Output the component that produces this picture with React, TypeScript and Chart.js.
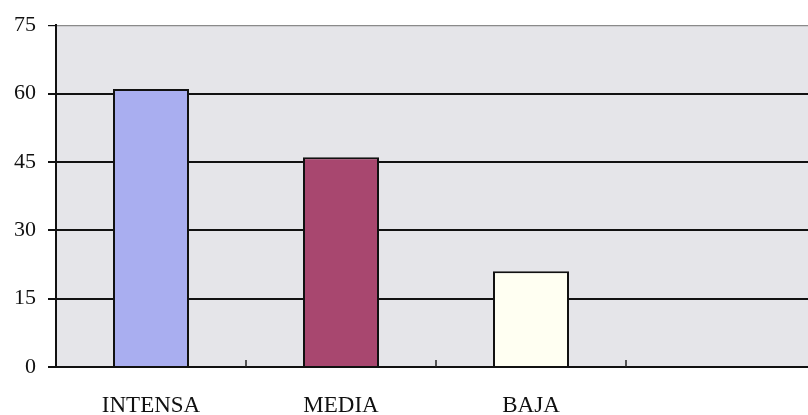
import React, { useEffect, useRef } from "react";
import { Chart, registerables } from "chart.js";

Chart.register(...registerables);

const categories = ["INTENSA", "MEDIA", "BAJA", ""];
const values = [61, 46, 21, null];
const barColors = ["#a9aef0", "#a8476f", "#fffff2", "#ffffff"];
const yTicks = [0, 15, 30, 45, 60, 75];

const plotBg = {
  id: "plotBg",
  beforeDraw(chart: any) {
    const { ctx, chartArea } = chart;
    ctx.save();
    ctx.fillStyle = "#e5e5e9";
    ctx.fillRect(chartArea.left, chartArea.top, chartArea.right - chartArea.left, chartArea.bottom - chartArea.top);
    ctx.restore();
  },
};

const innerTicks = {
  id: "innerTicks",
  afterDraw(chart: any) {
    const { ctx, chartArea } = chart;
    const x = chart.scales.x;
    ctx.save();
    ctx.strokeStyle = "#222";
    ctx.lineWidth = 1.5;
    for (let i = 1; i < categories.length; i++) {
      const px = (x.getPixelForValue(i - 1) + x.getPixelForValue(i)) / 2;
      ctx.beginPath();
      ctx.moveTo(px, chartArea.bottom);
      ctx.lineTo(px, chartArea.bottom - 7);
      ctx.stroke();
    }
    ctx.restore();
  },
};

export default function App() {
  const ref = useRef<HTMLCanvasElement>(null);
  useEffect(() => {
    if (!ref.current) return;
    const chart = new Chart(ref.current, {
      type: "bar",
      data: {
        labels: categories,
        datasets: [
          {
            data: values as any,
            backgroundColor: barColors,
            borderColor: "#111",
            borderWidth: 2,
            barPercentage: 0.8,
            categoryPercentage: 0.5,
          },
        ],
      },
      options: {
        animation: false,
        responsive: false,
        maintainAspectRatio: false,
        layout: { padding: { left: 0, right: 14, top: 25, bottom: 0 } },
        plugins: { legend: { display: false }, tooltip: { enabled: false } },
        scales: {
          x: {
            offset: true,
            afterFit(scale: any) {
              scale.height = 48;
            },
            grid: { display: false, drawTicks: false },
            border: { display: true, color: "#111", width: 2 },
            ticks: {
              color: "#111",
              padding: 25,
              maxRotation: 0,
              font: { family: "Liberation Serif", size: 23 },
            },
          },
          y: {
            min: 0,
            max: 75,
            afterFit(scale: any) {
              scale.width = 56;
            },
            afterBuildTicks(scale: any) {
              scale.ticks = yTicks.map((v) => ({ value: v }));
            },
            grid: {
              color: (c: any) => (c.tick && c.tick.value === 75 ? "#8a8a8a" : "#111"),
              lineWidth: (c: any) => (c.tick && c.tick.value === 75 ? 1.2 : 2),
              tickColor: "#111",
              tickLength: 8,
              drawOnChartArea: true,
            },
            border: { display: true, color: "#111", width: 2 },
            ticks: {
              color: "#111",
              padding: 12,
              font: { family: "Liberation Serif", size: 22 },
            },
          },
        },
      },
      plugins: [plotBg, innerTicks],
    });
    return () => chart.destroy();
  }, []);
  return (
    <div style={{ position: "fixed", left: 0, top: 0, width: 808, height: 415, overflow: "hidden", background: "#fff" }}>
      <canvas ref={ref} width={830} height={415} style={{ display: "block", width: 830, height: 415 }} />
    </div>
  );
}
